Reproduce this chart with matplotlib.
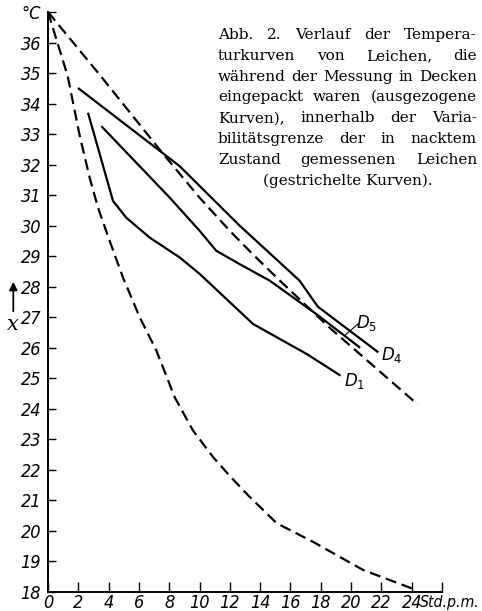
import matplotlib
matplotlib.use('Agg')
import matplotlib.pyplot as plt
from matplotlib import font_manager

# Zeit in Std. p.m. und Temperatur in °C, abgelesen aus Abb. 2
# gestrichelte Kurven: Variabilitaetsgrenzen der nackt gemessenen Leichen
oben_x = [0, 3.4, 7.6, 10.0, 12.0, 13.5, 15.3, 18.6, 24.4]
oben_t = [37.0, 34.95, 32.35, 30.92, 29.83, 29.07, 28.2, 26.65, 24.14]

unten_x = [0, 1.3, 2.1, 2.75, 3.3, 4.07, 4.95, 6.05, 7.16, 8.36, 9.57, 10.89,
           12.0, 13.2, 15.1, 17.5, 20.8, 24.0]
unten_t = [37.0, 34.9, 32.93, 31.57, 30.59, 29.5, 28.3, 27.0, 25.9, 24.38, 23.29,
           22.42, 21.8, 21.17, 20.25, 19.64, 18.72, 18.12]

# ausgezogene Kurven: in Decken eingepackte Leichen
d1_x = [2.64, 4.29, 5.17, 6.71, 8.69, 10.01, 13.53, 17.06, 19.3]
d1_t = [33.7, 30.81, 30.26, 29.61, 28.96, 28.42, 26.78, 25.8, 25.09]

d4_x = [1.98, 8.69, 12.65, 16.6, 17.8, 21.8]
d4_t = [34.51, 31.95, 30.0, 28.2, 27.35, 25.85]

d5_x = [3.52, 8.03, 10.01, 11.1, 12.65, 14.63, 17.72, 20.6]
d5_t = [33.26, 30.92, 29.83, 29.18, 28.74, 28.2, 27.1, 26.0]

xticks = list(range(0, 27, 2))
xlabels = [str(v) for v in range(0, 25, 2)] + ['']
yticks = list(range(18, 38))
ylabels = [str(v) for v in range(18, 37)] + ['°C']

legende = ["Abb. 2. Verlauf der Tempera-",
           "turkurven von Leichen, die",
           "während der Messung in Decken",
           "eingepackt waren (ausgezogene",
           "Kurven), innerhalb der Varia-",
           "bilitätsgrenze der in nacktem",
           "Zustand gemessenen Leichen",
           "(gestrichelte Kurven)."]

W, H = 482, 611

# schmale Schrift fuer die Achsenbeschriftung, falls vorhanden
namen = {f.name for f in font_manager.fontManager.ttflist}
schmal = 'Liberation Sans Narrow' if 'Liberation Sans Narrow' in namen else 'DejaVu Sans'

fig = plt.figure(figsize=(W / 100, H / 100), dpi=100)
ax = fig.add_axes([48 / W, 1 - 592 / H, (442 - 48) / W, (592 - 12) / H])

strich = dict(color='black', lw=1.6, linestyle=(0, (5, 2.6)), dash_capstyle='butt')
voll = dict(color='black', lw=1.6, solid_capstyle='butt')
ax.plot(oben_x, oben_t, **strich)
ax.plot(unten_x, unten_t, **strich)
ax.plot(d1_x, d1_t, **voll)
ax.plot(d4_x, d4_t, **voll)
ax.plot(d5_x, d5_t, **voll)

ax.set_xlim(0, 26)
ax.set_ylim(18, 37)
for s in ['top', 'right']:
    ax.spines[s].set_visible(False)
for s in ['left', 'bottom']:
    ax.spines[s].set_linewidth(1.4)

ax.set_xticks(xticks)
ax.set_xticklabels(xlabels)
ax.set_yticks(yticks)
ax.set_yticklabels(ylabels)
ax.tick_params(axis='x', direction='in', length=7, width=1, pad=1.5)
ax.tick_params(axis='y', direction='in', length=6, width=1, pad=5)
for lab in ax.get_xticklabels() + ax.get_yticklabels():
    lab.set_fontfamily(schmal)
    lab.set_fontstyle('italic')
    lab.set_fontstretch('condensed')
    lab.set_fontsize(13)

ax.text(24.55, -0.026, 'Std.p.m.', transform=ax.get_xaxis_transform(),
        ha='left', va='baseline', clip_on=False, fontfamily=schmal,
        style='italic', stretch='condensed', fontsize=11.3)

# Kurvenbezeichnungen
ax.text(20.2, 24.9, r'$\mathit{D_1}$', fontsize=12, ha='center', va='center')
ax.text(22.7, 25.75, r'$\mathit{D_4}$', fontsize=12, ha='center', va='center')
ax.text(21.0, 26.8, r'$\mathit{D_5}$', fontsize=12, ha='center', va='center')
ax.plot([19.57, 20.46], [26.4, 26.78], color='black', lw=0.8)

# Achsenbezeichnung x mit Pfeil
fig.add_artist(matplotlib.patches.FancyArrowPatch(
    (13.3 / W, 1 - 314 / H), (13.3 / W, 1 - 279 / H), transform=fig.transFigure,
    arrowstyle='-|>', mutation_scale=12, lw=1.3, color='black'))
fig.text(12.7 / W, 1 - 325 / H, 'x', fontsize=15, fontfamily='DejaVu Serif',
         style='italic', ha='center', va='center')

# Bildunterschrift im Blocksatz
r = fig.canvas.get_renderer()
probe = fig.text(0, 0, legende[2], fontsize=10, fontfamily='DejaVu Serif')
groesse = 10 * 257 / probe.get_window_extent(r).width
probe.remove()

links, rechts = 218, 477
for i, zeile in enumerate(legende):
    y = 1 - (39 + i * 20.8) / H
    if i == len(legende) - 1:
        fig.text((links + rechts) / 2 / W, y, zeile, ha='center', va='baseline',
                 fontsize=groesse, fontfamily='DejaVu Serif')
        continue
    woerter = zeile.split()
    texte = [fig.text(0, y, w, va='baseline', fontsize=groesse,
                      fontfamily='DejaVu Serif') for w in woerter]
    breiten = [t.get_window_extent(r).width for t in texte]
    luecke = (rechts - links - sum(breiten)) / (len(woerter) - 1)
    x = links
    for t, b in zip(texte, breiten):
        t.set_x(x / W)
        x += b + luecke

fig.savefig('out.png', dpi=100)
